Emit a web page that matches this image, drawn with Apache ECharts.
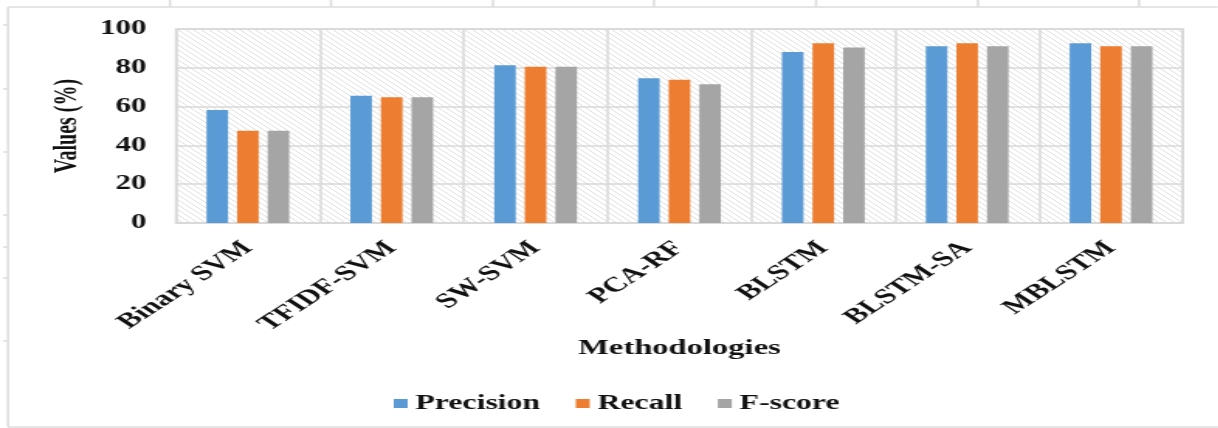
<!DOCTYPE html>
<html>
<head>
<meta charset="utf-8">
<script src="https://cdn.jsdelivr.net/npm/echarts@6/dist/echarts.min.js"></script>
<style>
  html, body { margin: 0; padding: 0; background: #fff; overflow: hidden; }
  #wrap { width: 1218px; height: 428px; overflow: hidden; }
  /* the chart is laid out narrow and widened, giving the broad lettering of the figure */
  #chart { width: 786px; height: 428px; transform: scaleX(1.55); transform-origin: 0 0; }
</style>
</head>
<body>
<div id="wrap"><div id="chart"></div></div>
<script>
// Methods compared and their scores (%)
const categories = ['Binary SVM', 'TFIDF-SVM', 'SW-SVM', 'PCA-RF', 'BLSTM', 'BLSTM-SA', 'MBLSTM'];
const precision = [58.2, 65.6, 81.3, 74.6, 88.2, 91.1, 92.6];
const recall    = [47.6, 64.8, 80.6, 73.9, 92.7, 92.7, 91.1];
const fscore    = [47.6, 64.8, 80.6, 71.5, 90.5, 91.1, 91.1];
const seriesNames = ['Precision', 'Recall', 'F-score'];
const yTicks = { min: 0, max: 100, interval: 20 };

const SX = 1.55;               // horizontal widening applied via CSS
const FONT = '"Liberation Serif", "Times New Roman", serif';
const GRID_LINE = '#d9d9d9';
const TEXT = '#111';

// diagonal hatch used as the plot-area background
function hatchPattern() {
  const n = 5;
  const c = document.createElement('canvas');
  c.width = n; c.height = n;
  const g = c.getContext('2d');
  g.fillStyle = '#fff';
  g.fillRect(0, 0, n, n);
  g.strokeStyle = '#dedede';
  g.lineWidth = 0.9;
  g.beginPath();
  g.moveTo(-1, -1); g.lineTo(n + 1, n + 1);
  g.moveTo(-1, n - 1); g.lineTo(1, n + 1);
  g.moveTo(n - 1, -1); g.lineTo(n + 1, 1);
  g.stroke();
  return { image: c, repeat: 'repeat' };
}

// page frame with ruler-style ticks around the figure
function frameGraphics() {
  const col = '#dcdcdc';
  const els = [];
  const line = (x1, y1, x2, y2) => els.push({
    type: 'line', silent: true,
    shape: { x1: x1 / SX, y1, x2: x2 / SX, y2 },
    style: { stroke: col, lineWidth: 1.5 }
  });
  line(8, 7, 1218, 7);
  line(8, 7, 8, 427);
  line(8, 427, 1218, 427);
  [170, 331, 493, 654, 816, 978, 1139].forEach(x => line(x, 0, x, 7));
  [25, 89, 152, 215, 247, 278, 341].forEach(y => line(3, y, 8, y));
  return els;
}

const chart = echarts.init(document.getElementById('chart'));
const barStyle = (color) => ({
  type: 'bar',
  barWidth: 13.9,
  barGap: '42%',
  itemStyle: { color: color },
  emphasis: { disabled: true }
});

chart.setOption({
  animation: false,
  graphic: frameGraphics(),
  grid: {
    left: 113.5, right: 22.8, top: 29, bottom: 205,
    show: true,
    backgroundColor: hatchPattern(),
    borderColor: GRID_LINE,
    borderWidth: 1.5
  },
  legend: {
    data: seriesNames,
    left: 249, top: 388,
    icon: 'rect',
    itemWidth: 9, itemHeight: 9,
    itemGap: 23,
    textStyle: { fontFamily: FONT, fontWeight: 'bold', fontSize: 20.5, color: TEXT }
  },
  xAxis: {
    type: 'category',
    data: categories,
    name: 'Methodologies',
    nameLocation: 'middle',
    nameGap: 113,
    nameTextStyle: { fontFamily: FONT, fontWeight: 'bold', fontSize: 21, color: TEXT },
    axisLine: { lineStyle: { color: GRID_LINE, width: 1.5 } },
    axisTick: { show: false },
    splitLine: { show: true, interval: 0, lineStyle: { color: GRID_LINE, width: 1.5 } },
    axisLabel: {
      interval: 0, rotate: 45, margin: 22,
      fontFamily: FONT, fontWeight: 'bold', fontSize: 21, color: TEXT
    }
  },
  yAxis: {
    type: 'value',
    min: yTicks.min, max: yTicks.max, interval: yTicks.interval,
    name: 'Values (%)',
    nameLocation: 'middle',
    nameGap: 55,
    nameTextStyle: { fontFamily: FONT, fontWeight: 'bold', fontSize: 20, color: TEXT },
    axisLine: { show: false },
    axisTick: { show: false },
    splitLine: { lineStyle: { color: GRID_LINE, width: 1.5 } },
    axisLabel: { margin: 19, fontFamily: FONT, fontWeight: 'bold', fontSize: 20, color: TEXT }
  },
  series: [
    Object.assign(barStyle('#5b9bd5'), { name: seriesNames[0], data: precision }),
    Object.assign(barStyle('#ed7d31'), { name: seriesNames[1], data: recall }),
    Object.assign(barStyle('#a5a5a5'), { name: seriesNames[2], data: fscore })
  ]
});
</script>
</body>
</html>
